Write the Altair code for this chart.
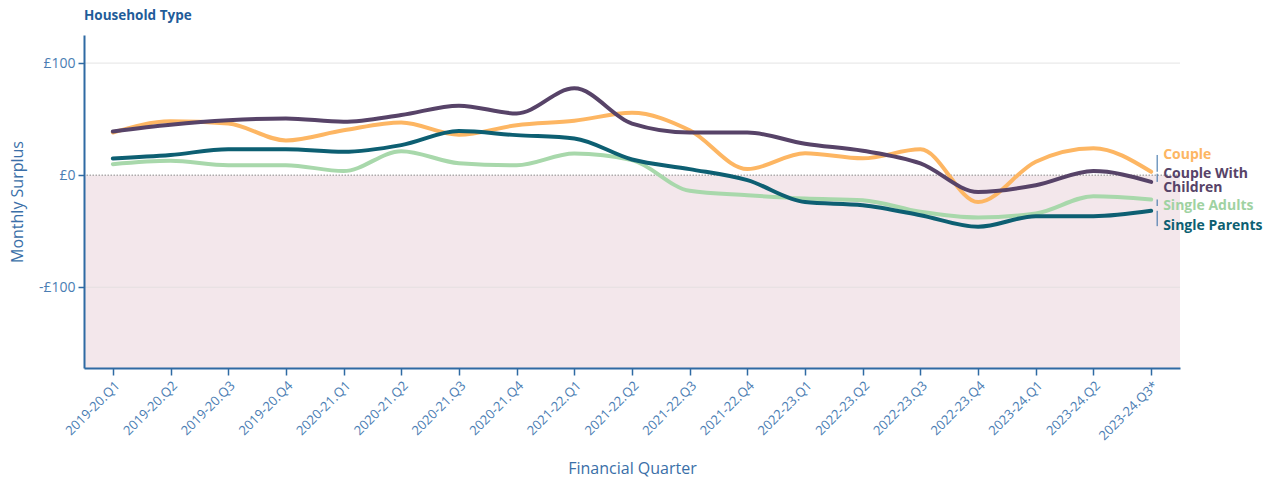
import altair as alt
import pandas as pd

quarters = ["2019-20.Q1", "2019-20.Q2", "2019-20.Q3", "2019-20.Q4",
            "2020-21.Q1", "2020-21.Q2", "2020-21.Q3", "2020-21.Q4",
            "2021-22.Q1", "2021-22.Q2", "2021-22.Q3", "2021-22.Q4",
            "2022-23.Q1", "2022-23.Q2", "2022-23.Q3", "2022-23.Q4",
            "2023-24.Q1", "2023-24.Q2", "2023-24.Q3*"]

couple = [38, 48, 46, 31, 40, 47, 36, 44.6, 48.5, 55.6, 40, 5.4, 19.5, 15, 23, -24, 12, 24, 3]
couple_children = [39, 45, 49, 50.6, 47.6, 53.6, 62, 55, 77.4, 46, 38, 38, 28, 21.7, 10.4, -15, -9, 3.6, -6]
single_adults = [9.8, 12.8, 8.9, 8.9, 3.6, 21.4, 10.7, 8.9, 19.3, 13.4, -14, -17.9, -20.8, -22.3, -32.7, -37.8, -34.2, -18.8, -21.7]
single_parents = [14.9, 17.9, 23.2, 23.2, 20.8, 26.8, 39.3, 35.7, 32.7, 14, 5.4, -4.5, -24, -26.8, -35.7, -46, -36.6, -36.6, -31.8]

series_names = ["Couple", "Couple With Children", "Single Adults", "Single Parents"]
series_colors = ["#fdb663", "#574368", "#a8d8ab", "#0d5f72"]
label_colors = ["#fdb663", "#574368", "#9fd2a2", "#0d5f72"]
label_texts = ["Couple", "Couple With\nChildren", "Single Adults", "Single Parents"]
label_values = [18, 1.3, -27.5, -45.5]
draw_order = ["Couple", "Single Adults", "Couple With Children", "Single Parents"]

y_domain = [-172, 125]
y_ticks = [-100, 0, 100]
grid_values = [-100, 100]

W, H = 1096, 333
FONT = "Open Sans"
AXIS_BLUE = "#2f6aa3"
LABEL_BLUE = "#4a7db3"

values = {"Couple": couple, "Couple With Children": couple_children,
          "Single Adults": single_adults, "Single Parents": single_parents}
rows = []
for name in series_names:
    for q, v in zip(quarters, values[name]):
        rows.append({"quarter": q, "series": name, "value": v})
df = pd.DataFrame(rows)

x_scale = alt.Scale(type="point", padding=0.5, domain=quarters)
y_scale = alt.Scale(domain=y_domain, nice=False, zero=False)

x_enc = alt.X("quarter:N", sort=quarters, scale=x_scale,
              axis=alt.Axis(title="Financial Quarter", labelAngle=-45,
                            labelFontSize=13, labelColor=LABEL_BLUE, labelFont=FONT,
                            titleFont=FONT, titleFontSize=16, titleFontWeight="normal",
                            titleColor="#3a6fa8", titleX=W / 2, titleY=100,
                            titleBaseline="middle", titleAlign="center",
                            domainColor=AXIS_BLUE, domainWidth=2,
                            tickColor=AXIS_BLUE, tickWidth=1.5, tickSize=7,
                            labelPadding=4, grid=False, zindex=1))
y_enc = alt.Y("value:Q", scale=y_scale,
              axis=alt.Axis(title="Monthly Surplus", values=y_ticks,
                            labelExpr="datum.value < 0 ? '-£' + abs(datum.value) : '£' + datum.value",
                            labelFontSize=14, labelColor=LABEL_BLUE, labelFont=FONT,
                            titleFont=FONT, titleFontSize=16, titleFontWeight="normal",
                            titleColor="#3a6fa8", titleX=-67, titleY=H / 2,
                            titleAngle=-90, titleAlign="center", titleBaseline="middle",
                            domainColor=AXIS_BLUE, domainWidth=2,
                            tickColor=AXIS_BLUE, tickWidth=1.5, tickSize=6,
                            labelPadding=3, grid=False, zindex=1))

axes_layer = alt.Chart(df).mark_line(opacity=0).encode(x=x_enc, y=y_enc)

bg = alt.Chart(pd.DataFrame({"lo": [y_domain[0]], "hi": [0]})).mark_rect(
    color="#f3e7eb").encode(
    x=alt.value(0), x2=alt.value(W),
    y=alt.Y("hi:Q", scale=y_scale), y2="lo:Q")

grid = alt.Chart(pd.DataFrame({"v": grid_values})).mark_rule(
    color="#d8d8d8", opacity=0.55, strokeWidth=1.2).encode(
    y=alt.Y("v:Q", scale=y_scale))

zero = alt.Chart(pd.DataFrame({"v": [0]})).mark_rule(
    color="#888888", strokeDash=[1.5, 1.5], strokeWidth=1).encode(
    y=alt.Y("v:Q", scale=y_scale))

line_layers = []
for name in draw_order:
    c = series_colors[series_names.index(name)]
    line_layers.append(
        alt.Chart(df).transform_filter(alt.datum.series == name).mark_line(
            color=c, strokeWidth=4, interpolate="monotone", strokeCap="round").encode(
            x=alt.X("quarter:N", sort=quarters, scale=x_scale),
            y=alt.Y("value:Q", scale=y_scale)))

last_vals = [values[n][-1] for n in series_names]
lab_df = pd.DataFrame({"series": series_names, "text": label_texts,
                       "label_v": label_values, "end_v": last_vals,
                       "quarter": [quarters[-1]] * 4, "color": label_colors})

brackets = alt.Chart(lab_df).mark_rule(color=AXIS_BLUE, strokeWidth=1, xOffset=6).encode(
    x=alt.X("quarter:N", scale=x_scale),
    y=alt.Y("end_v:Q", scale=y_scale), y2="label_v:Q")

labels = alt.Chart(lab_df).mark_text(
    align="left", baseline="middle", dx=12, font=FONT, fontSize=14,
    fontWeight="bold", lineBreak="\n", lineHeight=14).encode(
    x=alt.X("quarter:N", scale=x_scale),
    y=alt.Y("label_v:Q", scale=y_scale),
    text="text:N",
    color=alt.Color("color:N", scale=None))

title = alt.Chart(pd.DataFrame({"t": ["Household Type"]})).mark_text(
    align="left", baseline="middle", font=FONT, fontSize=13.5, fontWeight="bold",
    color="#1f5c99").encode(x=alt.value(0), y=alt.value(-19), text="t:N")

chart = alt.layer(axes_layer, bg, grid, zero, *line_layers, brackets, labels, title).properties(
    width=W, height=H,
    autosize=alt.AutoSizeParams(type="pad"),
    padding={"left": 1, "top": 1, "right": 4, "bottom": 2},
).configure_view(stroke=None)

chart.save("out.html", embed_options={"renderer": "svg", "actions": False})
